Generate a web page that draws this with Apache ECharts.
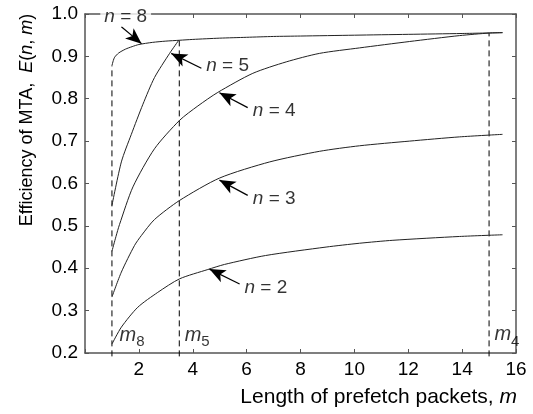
<!DOCTYPE html>
<html>
<head>
<meta charset="utf-8">
<script src="https://cdn.jsdelivr.net/npm/echarts@6/dist/echarts.min.js"></script>
<style>
  html, body { margin: 0; padding: 0; background: #fff; }
  #chart { width: 533px; height: 414px; }
</style>
</head>
<body>
<div id="chart"></div>
<script>
// Efficiency E(n, m) against prefetch packet length m, one curve per n
const n8M = [1, 1.05, 1.1, 1.25, 1.5, 1.75, 2, 2.5, 3, 3.5, 4, 5, 6, 7, 8, 10, 12, 14, 15.5];
const n8E = [0.878, 0.890, 0.898, 0.908, 0.917, 0.923, 0.928, 0.933, 0.936, 0.938, 0.940, 0.943, 0.945, 0.947, 0.948, 0.950, 0.952, 0.954, 0.956];

const n5M = [1, 1.35, 1.72, 2.15, 2.58, 3.14, 3.48];
const n5E = [0.548, 0.651, 0.716, 0.787, 0.850, 0.907, 0.938];

const n4M = [1, 1.15, 1.28, 1.78, 2.58, 3.51, 4.19, 4.93, 6.23, 7.47, 8.7, 10.19, 12.04, 13.9, 15, 15.5];
const n4E = [0.44, 0.475, 0.503, 0.592, 0.682, 0.749, 0.783, 0.815, 0.860, 0.887, 0.907, 0.920, 0.935, 0.949, 0.955, 0.956];

const n3M = [1, 1.35, 1.84, 2.09, 2.58, 3.51, 5, 6.86, 8.71, 10.19, 12.04, 13.9, 15.5];
const n3E = [0.332, 0.391, 0.454, 0.477, 0.515, 0.560, 0.613, 0.651, 0.676, 0.689, 0.700, 0.710, 0.716];

const n2M = [1, 1.35, 1.96, 2.7, 3.51, 4.56, 5.18, 6.7, 8.95, 10.19, 11.43, 13.9, 15.5];
const n2E = [0.221, 0.261, 0.308, 0.343, 0.375, 0.397, 0.409, 0.430, 0.450, 0.459, 0.466, 0.475, 0.479];

// Optimal packet lengths m_n and the efficiency reached there
const optNames = ['8', '5', '4'];
const optM = [1, 3.5, 15];
const optE = [0.878, 0.938, 0.955];
const optLabelAt = [[1.28, 0.236], [3.70, 0.236], [15.2, 0.238]];

// Curve labels "n = ..." with their pointer arrows (tail -> head)
const curveN = [8, 5, 4, 3, 2];
const curveLabelAt = [[1.51, 0.993], [4.50, 0.879], [6.23, 0.771], [6.23, 0.564], [5.92, 0.354]];
const arrowTail = [[1.35, 0.970], [4.32, 0.872], [6.04, 0.779], [6.04, 0.572], [5.74, 0.363]];
const arrowHead = [[2.1, 0.930], [3.2, 0.907], [4.99, 0.814], [4.99, 0.608], [4.62, 0.398]];

// Axis ranges and ticks
const xMin = 0, xMax = 16, xStep = 2;
const yMin = 0.2, yMax = 1.0, yStep = 0.1;

const FONT = 'Liberation Sans';
const AXIS_COLOR = '#555';
const CURVE_COLOR = '#222';

const zip = (xs, ys) => xs.map((x, i) => [x, ys[i]]);

function curve(name, xs, ys) {
  return {
    name: name,
    type: 'line',
    data: zip(xs, ys),
    showSymbol: false,
    symbol: 'none',
    smooth: 0.25,
    lineStyle: { color: CURVE_COLOR, width: 1 },
    silent: true,
    z: 3
  };
}

const series = [
  curve('n=8', n8M, n8E),
  curve('n=5', n5M, n5E),
  curve('n=4', n4M, n4E),
  curve('n=3', n3M, n3E),
  curve('n=2', n2M, n2E)
];

// dashed verticals at m_8, m_5, m_4
optM.forEach((m, i) => {
  series.push({
    type: 'line',
    data: [[m, 0.192], [m, optE[i]]],
    symbol: 'none',
    clip: false,
    lineStyle: { color: '#000', width: 1, type: [6, 4] },
    silent: true,
    z: 2
  });
});

// m_n labels
series.push({
  type: 'scatter',
  symbolSize: 0,
  data: optLabelAt.map((p, i) => ({ value: p, sub: optNames[i] })),
  label: {
    show: true,
    position: 'right',
    distance: 0,
    formatter: p => '{m|m}{s|' + p.data.sub + '}',
    rich: {
      m: { fontSize: 20, fontStyle: 'italic', fontFamily: FONT, color: '#000', verticalAlign: 'top' },
      s: { fontSize: 15, fontFamily: FONT, color: '#000', verticalAlign: 'top', padding: [9, 0, 0, 0] }
    }
  },
  silent: true,
  z: 5
});

// "n = ..." labels
const nLabels = {
  type: 'scatter',
  symbolSize: 0,
  data: curveLabelAt.map((p, i) => ({ value: p, n: curveN[i] })),
  label: {
    show: true,
    position: 'right',
    distance: 0,
    fontSize: 19,
    fontFamily: FONT,
    color: '#000',
    formatter: p => '{i|n} = ' + p.data.n,
    rich: {
      i: { fontSize: 19, fontStyle: 'italic', fontFamily: FONT, color: '#000' }
    }
  },
  silent: true,
  z: 6
};
// the top label sits on the frame, centred, on a white patch
nLabels.data[0].label = { position: 'inside', backgroundColor: '#fff', padding: [0, 4] };
series.push(nLabels);

// pointer arrows
series.push({
  type: 'line',
  data: [],
  silent: true,
  markLine: {
    silent: true,
    symbol: ['none', 'arrow'],
    symbolSize: [10, 16],
    label: { show: false },
    lineStyle: { color: '#000', width: 1.2, type: 'solid' },
    emphasis: { disabled: true },
    animation: false,
    data: arrowTail.map((t, i) => [{ coord: t }, { coord: arrowHead[i] }])
  },
  z: 4
});

const gridAxisCommon = {
  type: 'value',
  splitLine: { show: false },
  axisLine: { show: true, onZero: false, lineStyle: { color: AXIS_COLOR, width: 1.5 } },
  axisTick: { show: true, inside: true, length: 4, lineStyle: { color: AXIS_COLOR, width: 1 } }
};

const option = {
  animation: false,
  backgroundColor: '#fff',
  grid: { left: 85, right: 17, top: 14, bottom: 61, containLabel: false },
  xAxis: [
    Object.assign({}, gridAxisCommon, {
      position: 'bottom', min: xMin, max: xMax, interval: xStep,
      axisLabel: {
        fontSize: 19, fontFamily: FONT, color: '#000', margin: 7,
        formatter: v => (v === xMin ? '' : String(v))
      }
    }),
    Object.assign({}, gridAxisCommon, {
      position: 'top', min: xMin, max: xMax, interval: xStep,
      axisLabel: { show: false }
    })
  ],
  yAxis: [
    Object.assign({}, gridAxisCommon, {
      position: 'left', min: yMin, max: yMax, interval: yStep,
      axisLabel: {
        fontSize: 19, fontFamily: FONT, color: '#000', margin: 7,
        formatter: v => v.toFixed(1)
      }
    }),
    Object.assign({}, gridAxisCommon, {
      position: 'right', min: yMin, max: yMax, interval: yStep,
      axisLabel: { show: false }
    })
  ],
  graphic: [
    {
      type: 'text',
      x: 27, y: 120,
      rotation: Math.PI / 2,
      style: {
        text: 'Efficiency of MTA,  {i|E}({i|n}, {i|m})',
        fontSize: 18, fontFamily: FONT, fill: '#000',
        align: 'center', verticalAlign: 'middle',
        rich: { i: { fontSize: 18, fontFamily: FONT, fontStyle: 'italic', fill: '#000' } }
      }
    },
    {
      type: 'text',
      x: 517, y: 397,
      style: {
        text: 'Length of prefetch packets, {i|m}',
        fontSize: 21, fontFamily: FONT, fill: '#000',
        align: 'right', verticalAlign: 'middle',
        rich: { i: { fontSize: 21, fontFamily: FONT, fontStyle: 'italic', fill: '#000' } }
      }
    }
  ],
  series: series
};

const chart = echarts.init(document.getElementById('chart'), null, { renderer: 'canvas' });
chart.setOption(option);
</script>
</body>
</html>
